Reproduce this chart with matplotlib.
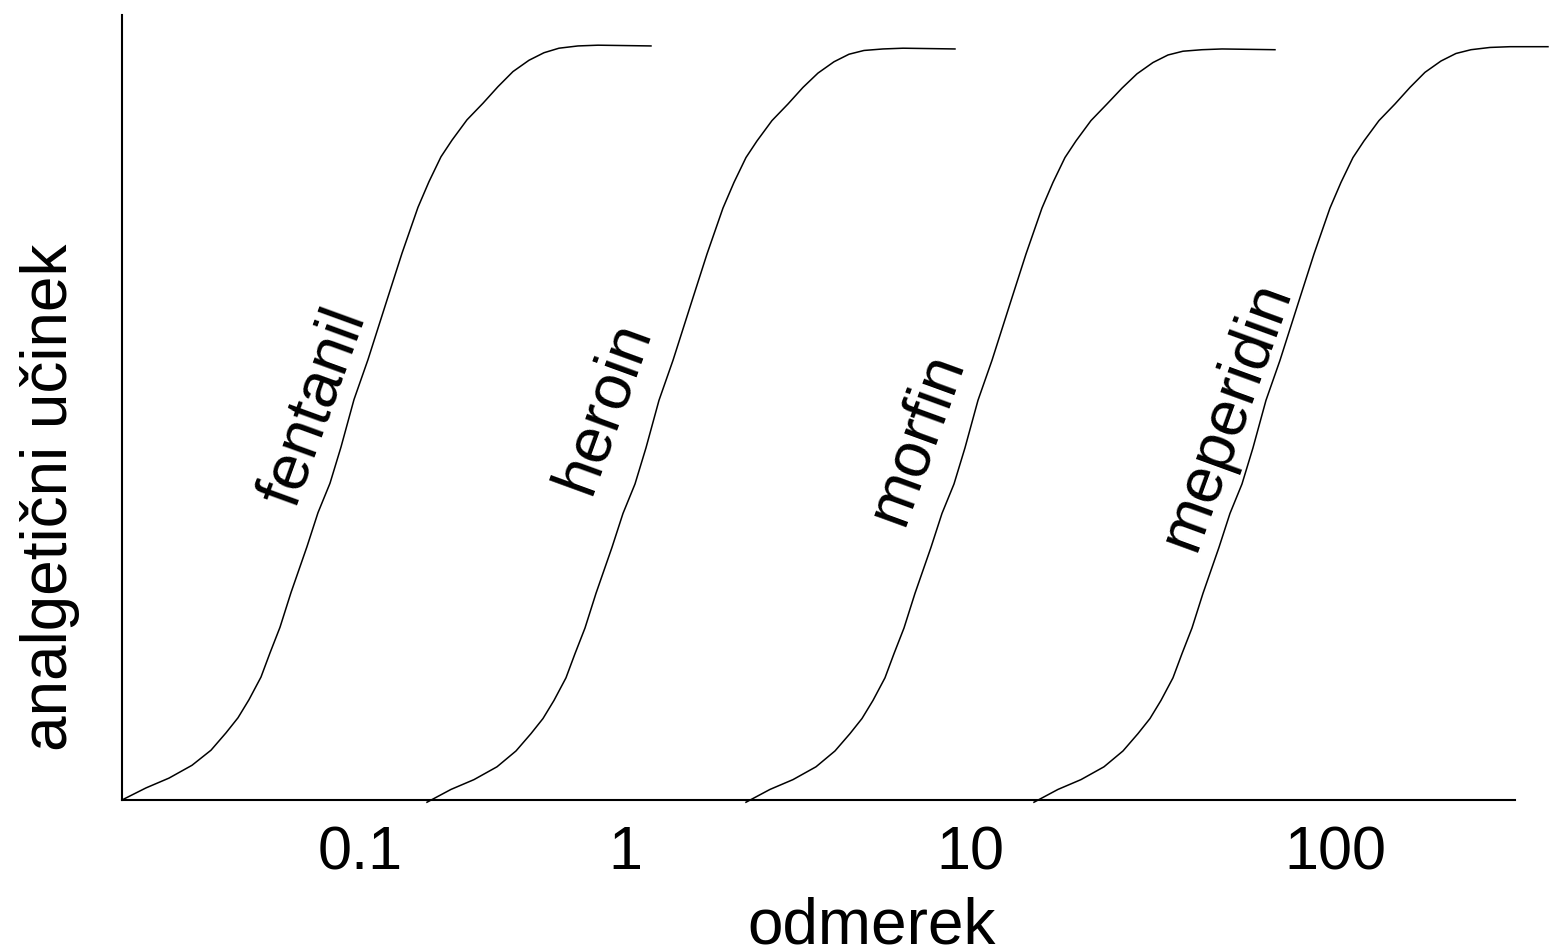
# dose-response curves of four opioids (shifted sigmoids)
import matplotlib
matplotlib.use('Agg')
import matplotlib.pyplot as plt

plt.rcParams['font.family'] = ['Liberation Sans', 'DejaVu Sans']

# x: dose position along the axis (arbitrary units), y: analgesic effect (% of max)
fentanil_x = [0, 24, 47, 70, 89, 104, 116, 127, 139, 148, 158, 169, 185, 196, 208, 219, 232,
              246, 265, 280, 296, 307, 319, 330, 345, 361, 376, 391, 407, 422, 437, 456, 476, 529]
fentanil_y = [0, 1.6, 2.9, 4.6, 6.6, 8.9, 10.9, 13.3, 16.3, 19.5, 22.9, 27.5, 33.6, 38.1, 42.0, 46.8, 53.1,
              58.4, 66.3, 72.5, 78.6, 82.0, 85.3, 87.5, 90.2, 92.4, 94.6, 96.6, 98.1, 99.1, 99.7, 100.0, 100.1, 100.0]

heroin_x = [305, 329, 352, 375, 394, 409, 421, 432, 444, 453, 463, 474, 490, 501, 513, 524, 537,
            551, 570, 585, 601, 612, 624, 635, 650, 666, 681, 696, 712, 727, 742, 761, 781, 833]
heroin_y = [-0.3, 1.4, 2.7, 4.4, 6.5, 8.8, 10.8, 13.2, 16.2, 19.4, 22.8, 27.4, 33.5, 38.0, 41.9, 46.7, 53.0,
            58.3, 66.2, 72.4, 78.5, 81.9, 85.2, 87.4, 90.1, 92.3, 94.5, 96.4, 97.9, 98.9, 99.4, 99.6, 99.7, 99.6]

morfin_x = [624, 648, 671, 694, 713, 728, 740, 751, 763, 772, 782, 793, 809, 820, 832, 843, 856,
            870, 889, 904, 920, 931, 943, 954, 969, 985, 1000, 1015, 1031, 1046, 1061, 1080, 1100, 1153]
morfin_y = [-0.3, 1.4, 2.7, 4.4, 6.5, 8.8, 10.8, 13.2, 16.2, 19.4, 22.8, 27.4, 33.5, 38.0, 41.9, 46.7, 53.0,
            58.3, 66.2, 72.4, 78.5, 81.9, 85.2, 87.4, 90.1, 92.3, 94.4, 96.3, 97.8, 98.8, 99.3, 99.5, 99.6, 99.5]

meperidin_x = [912, 936, 959, 982, 1001, 1016, 1028, 1039, 1051, 1060, 1070, 1081, 1097, 1108, 1120, 1131, 1144,
               1158, 1177, 1192, 1208, 1219, 1231, 1242, 1257, 1273, 1288, 1303, 1319, 1334, 1349, 1368, 1388, 1426]
meperidin_y = [-0.3, 1.4, 2.7, 4.4, 6.5, 8.8, 10.8, 13.2, 16.2, 19.4, 22.8, 27.4, 33.5, 38.0, 41.9, 46.7, 53.0,
               58.3, 66.2, 72.4, 78.5, 81.9, 85.2, 87.4, 90.1, 92.3, 94.5, 96.5, 98.0, 99.0, 99.5, 99.8, 99.9, 99.9]

drug_names = ['fentanil', 'heroin', 'morfin', 'meperidin']
label_x = [192, 482, 795, 1105]
label_y = [52, 52.2, 48, 51]

tick_pos = [238, 503, 848, 1213]
tick_labels = ['0.1', '1', '10', '100']

W, H = 1550, 951
fig = plt.figure(figsize=(W / 100, H / 100), dpi=100)
ax = fig.add_axes([0.0787, 0.1588, 0.8987, 0.8254])

curves = [(fentanil_x, fentanil_y), (heroin_x, heroin_y),
          (morfin_x, morfin_y), (meperidin_x, meperidin_y)]
for (xs, ys) in curves:
    ax.plot(xs, ys, c='k', lw=1.1, clip_on=False, solid_joinstyle='round')

for name, lx, ly in zip(drug_names, label_x, label_y):
    ax.text(lx, ly, name, rotation=70, fontsize=46, ha='center', va='center',
            rotation_mode='anchor')

ax.set_xlim(0, 1393)
ax.set_ylim(0, 104.1)
ax.spines['right'].set_visible(False)
ax.spines['top'].set_visible(False)
ax.spines['left'].set_linewidth(1.5)
ax.spines['bottom'].set_linewidth(1.5)

ax.set_xticks(tick_pos)
ax.set_xticklabels(tick_labels, va='baseline')
ax.set_yticks([])
ax.tick_params(axis='x', length=0, pad=50, labelsize=44)

# axis titles placed in figure pixels to match the original layout
fig.text(872 / W, 1 - 943 / H, 'odmerek', fontsize=46, ha='center', va='baseline')
fig.text(50 / W, 1 - 497 / H, 'analgetični učinek', fontsize=46, rotation=90,
         ha='center', va='center')

fig.savefig('out.png', dpi=100)
